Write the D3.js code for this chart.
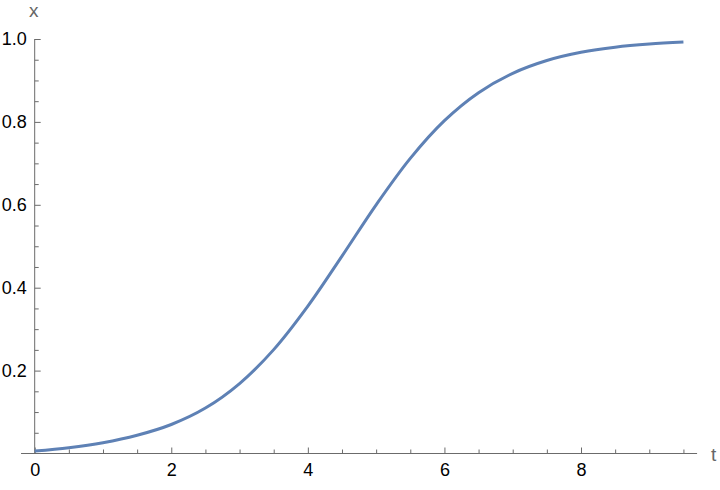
<!DOCTYPE html>
<html>
<head>
<meta charset="utf-8">
<script src="https://cdn.jsdelivr.net/npm/d3@7"></script>
<style>
  html, body { margin: 0; padding: 0; background: #fff; }
  svg { display: block; }
</style>
</head>
<body>
<svg id="chart" width="720" height="490"></svg>
<script>
// Data
const tValues = [0, 0.5, 1, 1.5, 2, 2.5, 3, 3.5, 4, 4.5, 5, 5.5, 6, 6.5, 7, 7.5, 8, 8.5, 9, 9.5];
const xValues = [0.006, 0.014, 0.026, 0.044, 0.070, 0.1096, 0.1687, 0.2506, 0.3555, 0.4762,
                 0.5999, 0.7120, 0.8030, 0.8705, 0.9172, 0.9481, 0.9679, 0.9803, 0.9879, 0.9926];
const xMajorTicks = [0, 2, 4, 6, 8];
const xMinorTicks = [0.5, 1, 1.5, 2.5, 3, 3.5, 4.5, 5, 5.5, 6.5, 7, 7.5, 8.5, 9, 9.5];
const yMajorTicks = [0.2, 0.4, 0.6, 0.8, 1.0];
const yMinorTicks = [0.05, 0.1, 0.15, 0.25, 0.3, 0.35, 0.45, 0.5, 0.55, 0.65, 0.7, 0.75, 0.85, 0.9, 0.95];
const xAxisLabel = "t";
const yAxisLabel = "x";

const svg = d3.select("#chart");
const axisColor = "#6b6b6b";
const lineColor = "#5E81B5";
const font = "'Liberation Sans', Arial, Helvetica, sans-serif";

const x = d3.scaleLinear().domain([0, 8]).range([34.7, 581]);
const y = d3.scaleLinear().domain([0, 1]).range([453.5, 39]);

// X axis
const xAxisG = svg.append("g").attr("transform", `translate(0,${y(0)})`);
xAxisG.append("g")
  .call(d3.axisBottom(x).tickValues(xMinorTicks).tickSizeInner(-4).tickSizeOuter(0).tickFormat(""))
  .call(g => g.select(".domain").remove());
xAxisG.append("g")
  .call(d3.axisBottom(x).tickValues(xMajorTicks).tickSizeInner(-6).tickSizeOuter(0).tickPadding(10).tickFormat(d3.format("d")))
  .call(g => g.select(".domain").remove());
xAxisG.append("line")
  .attr("x1", x(-0.2)).attr("x2", x(9.7))
  .attr("y1", 0).attr("y2", 0);
xAxisG.selectAll("line").attr("stroke", axisColor).attr("stroke-width", 1);
xAxisG.selectAll("text").attr("font-family", font).attr("font-size", 18).attr("fill", "#000");

// Y axis
const yAxisG = svg.append("g").attr("transform", `translate(${x(0)},0)`);
yAxisG.append("g")
  .call(d3.axisLeft(y).tickValues(yMinorTicks).tickSizeInner(-4).tickSizeOuter(0).tickFormat(""))
  .call(g => g.select(".domain").remove());
yAxisG.append("g")
  .call(d3.axisLeft(y).tickValues(yMajorTicks).tickSizeInner(-6).tickSizeOuter(0).tickPadding(8).tickFormat(d3.format(".1f")))
  .call(g => g.select(".domain").remove());
yAxisG.append("line")
  .attr("x1", 0).attr("x2", 0)
  .attr("y1", y(0)).attr("y2", y(1));
yAxisG.selectAll("line").attr("stroke", axisColor).attr("stroke-width", 1);
yAxisG.selectAll("text").attr("font-family", font).attr("font-size", 18).attr("fill", "#000");

// Axis labels
svg.append("text")
  .attr("x", x(0) - 1).attr("y", 17)
  .attr("text-anchor", "middle")
  .attr("font-family", font).attr("font-size", 19).attr("fill", "#666")
  .text(yAxisLabel);
svg.append("text")
  .attr("x", 711).attr("y", 461)
  .attr("text-anchor", "start")
  .attr("font-family", font).attr("font-size", 19).attr("fill", "#666")
  .text(xAxisLabel);

// Curve
const data = tValues.map((t, i) => ({ t, v: xValues[i] }));
svg.append("path")
  .datum(data)
  .attr("fill", "none")
  .attr("stroke", lineColor)
  .attr("stroke-width", 3)
  .attr("stroke-linejoin", "round")
  .attr("stroke-linecap", "butt")
  .attr("d", d3.line().x(d => x(d.t)).y(d => y(d.v)).curve(d3.curveCatmullRom.alpha(0.5)));
</script>
</body>
</html>
